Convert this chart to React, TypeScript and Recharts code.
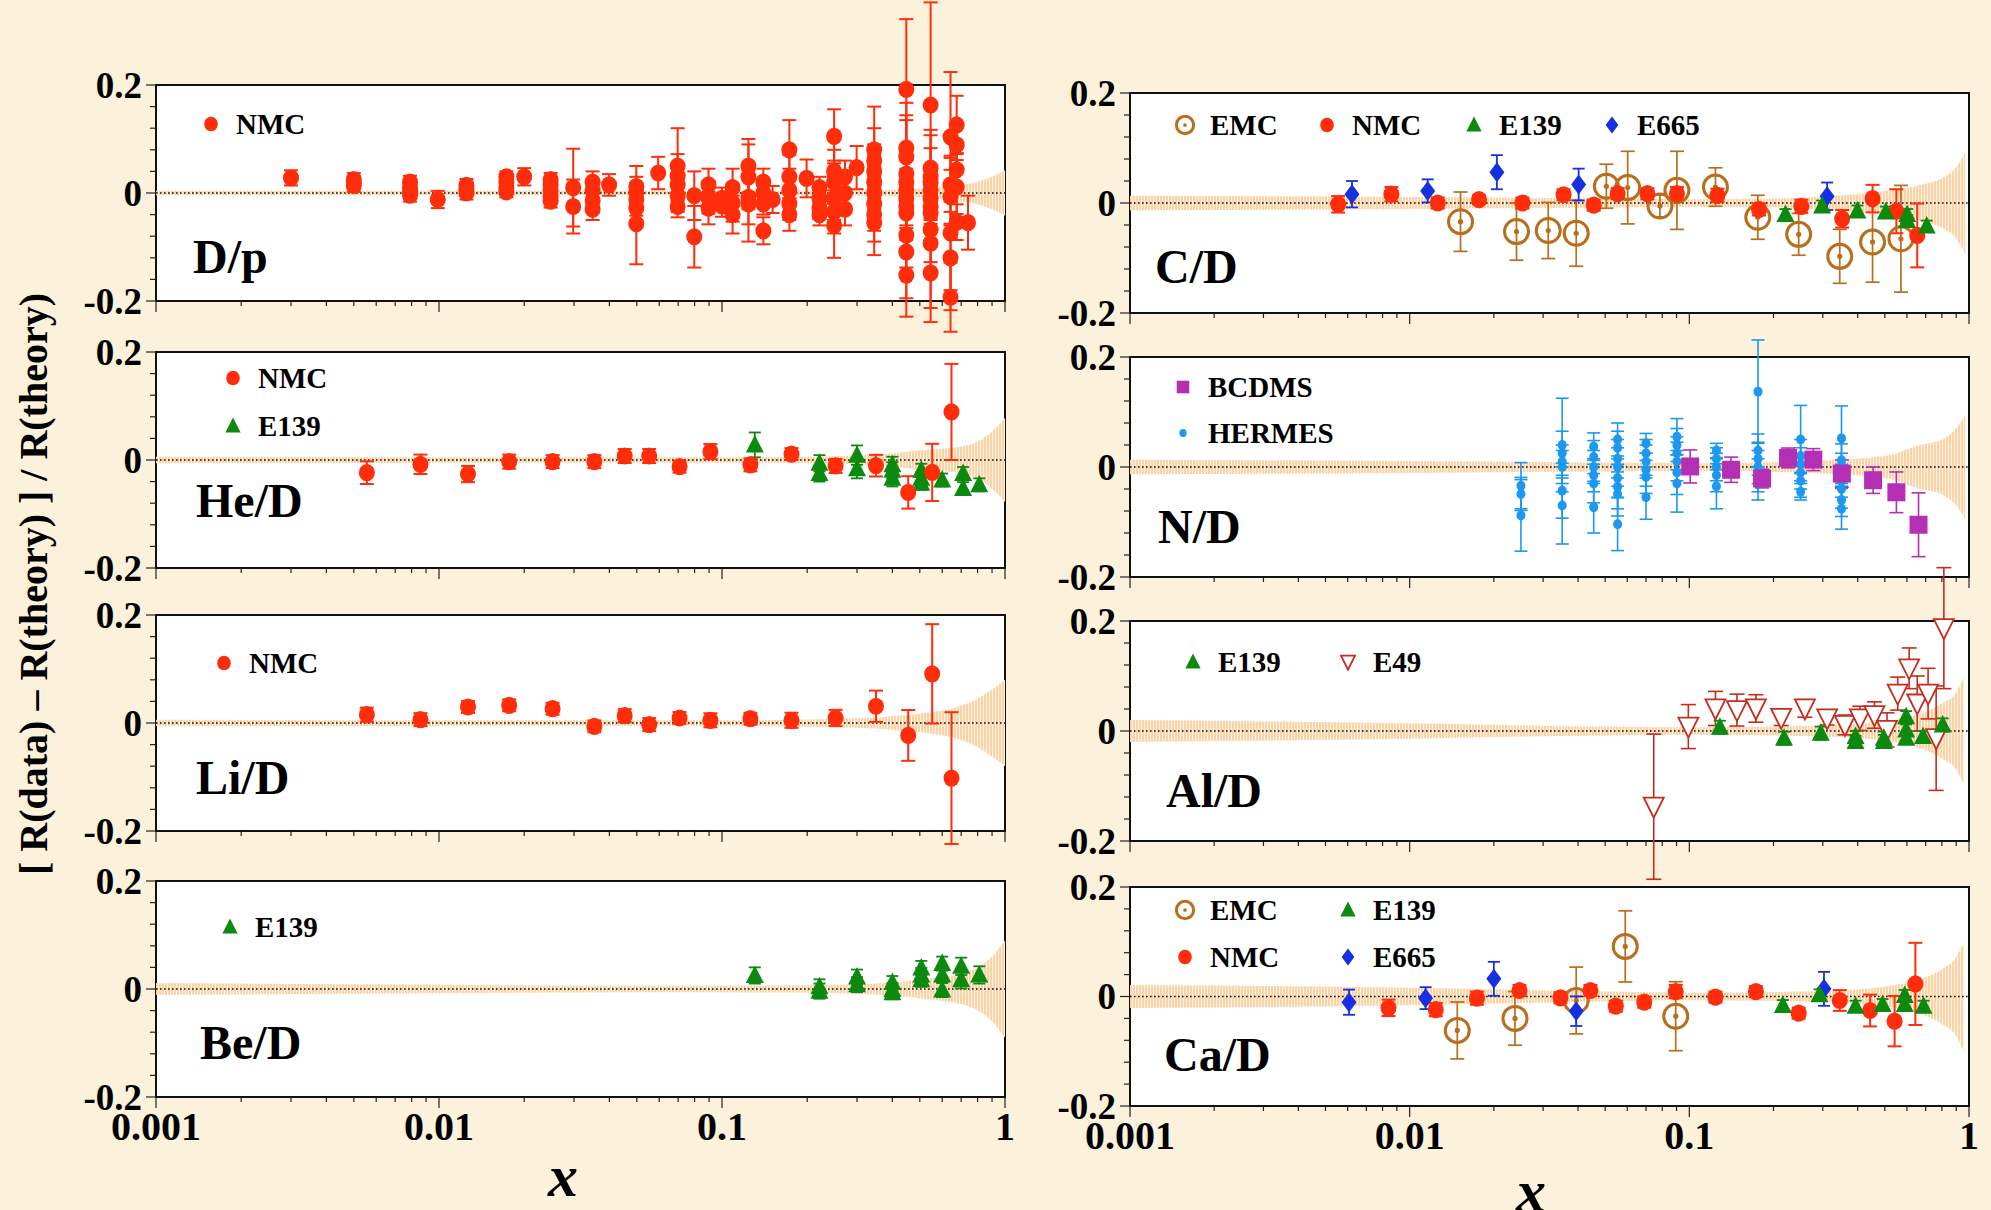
import React from "react";
import { ComposedChart, Scatter, Area, XAxis, YAxis, ErrorBar, ReferenceLine } from "recharts";

// rows are [x, value, error]
type Row = number[];

const xTicks = [
  0.001, 0.002, 0.003, 0.004, 0.005, 0.006, 0.007, 0.008, 0.009,
  0.01, 0.02, 0.03, 0.04, 0.05, 0.06, 0.07, 0.08, 0.09,
  0.1, 0.2, 0.3, 0.4, 0.5, 0.6, 0.7, 0.8, 0.9, 1,
];
const xMajor = [0.001, 0.01, 0.1, 1];
const xMajorText = ["0.001", "0.01", "0.1", "1"];
const yTicks = [-0.2, -0.16, -0.12, -0.08, -0.04, 0, 0.04, 0.08, 0.12, 0.16, 0.2];
const yMajor = [-0.2, 0, 0.2];
const yMajorText = ["-0.2", "0", "0.2"];

// theory uncertainty half-widths, [x, halfwidth]
const bandDp = [[0.001, 0.004], [0.1, 0.004], [0.3, 0.005], [0.5, 0.008], [0.6, 0.011], [0.7, 0.015], [0.8, 0.021], [0.9, 0.03], [1, 0.042]];
const bandHe = [[0.001, 0.006], [0.1, 0.005], [0.3, 0.008], [0.4, 0.012], [0.5, 0.018], [0.6, 0.021], [0.7, 0.025], [0.8, 0.034], [0.9, 0.053], [1, 0.078]];
const bandLi = [[0.001, 0.006], [0.1, 0.005], [0.3, 0.009], [0.45, 0.015], [0.55, 0.02], [0.65, 0.027], [0.8, 0.045], [0.9, 0.062], [1, 0.08]];
const bandBe = [[0.001, 0.011], [0.01, 0.008], [0.05, 0.006], [0.2, 0.007], [0.4, 0.012], [0.5, 0.017], [0.6, 0.022], [0.7, 0.028], [0.8, 0.04], [0.9, 0.06], [1, 0.09]];
const bandC = [[0.001, 0.013], [0.01, 0.011], [0.05, 0.008], [0.1, 0.007], [0.2, 0.008], [0.3, 0.012], [0.5, 0.022], [0.7, 0.035], [0.8, 0.045], [0.9, 0.065], [0.97, 0.092]];
const bandN = [[0.001, 0.013], [0.01, 0.011], [0.05, 0.008], [0.1, 0.007], [0.3, 0.012], [0.5, 0.02], [0.67, 0.04], [0.8, 0.05], [0.9, 0.07], [0.97, 0.095]];
const bandAl = [[0.001, 0.02], [0.01, 0.014], [0.05, 0.008], [0.1, 0.007], [0.3, 0.01], [0.5, 0.018], [0.7, 0.035], [0.8, 0.05], [0.9, 0.07], [0.96, 0.098]];
const bandCa = [[0.001, 0.021], [0.01, 0.016], [0.05, 0.009], [0.1, 0.007], [0.3, 0.01], [0.5, 0.018], [0.7, 0.035], [0.8, 0.05], [0.9, 0.072], [0.96, 0.1]];

// D/p
const dpNMC: Row[] = [
  [0.003, 0.028, 0.014],
  [0.005, 0.025, 0.012], [0.005, 0.019, 0.012], [0.005, 0.014, 0.012],
  [0.0079, 0.02, 0.012], [0.0079, 0.01, 0.012], [0.0079, 0.002, 0.012], [0.0079, -0.004, 0.012],
  [0.0099, -0.012, 0.016],
  [0.0125, 0.014, 0.012], [0.0125, 0.006, 0.012], [0.0125, 0.0, 0.012],
  [0.0173, 0.03, 0.01], [0.0173, 0.02, 0.01], [0.0173, 0.01, 0.01], [0.0173, 0.002, 0.01],
  [0.02, 0.03, 0.016],
  [0.0248, 0.025, 0.012], [0.0248, 0.015, 0.012], [0.0248, 0.005, 0.012], [0.0248, -0.006, 0.012], [0.0248, -0.015, 0.012],
  [0.0298, 0.01, 0.072], [0.0298, -0.025, 0.05],
  [0.0349, 0.02, 0.02], [0.0349, 0.004, 0.02], [0.0349, -0.014, 0.02], [0.0349, -0.03, 0.02],
  [0.0399, 0.015, 0.02],
  [0.0498, 0.012, 0.038], [0.0498, 0.0, 0.03], [0.0498, -0.012, 0.03], [0.0498, -0.028, 0.03], [0.0498, -0.057, 0.075],
  [0.0595, 0.037, 0.03],
  [0.0697, 0.05, 0.07], [0.0697, 0.032, 0.04], [0.0697, 0.015, 0.03], [0.0697, -0.005, 0.03], [0.0697, -0.025, 0.02],
  [0.0798, -0.005, 0.045], [0.0798, -0.081, 0.057],
  [0.0896, 0.015, 0.03], [0.0896, -0.008, 0.03], [0.0896, -0.028, 0.03],
  [0.1, -0.01, 0.02], [0.1, -0.024, 0.02],
  [0.109, 0.01, 0.035], [0.109, -0.018, 0.035], [0.109, -0.04, 0.035],
  [0.124, 0.05, 0.05], [0.124, 0.03, 0.06], [0.124, -0.008, 0.05], [0.124, -0.02, 0.07],
  [0.14, 0.02, 0.025], [0.14, 0.0, 0.02], [0.14, -0.02, 0.02], [0.14, -0.07, 0.025],
  [0.151, -0.012, 0.025],
  [0.173, 0.08, 0.055], [0.173, 0.03, 0.04], [0.173, 0.005, 0.04], [0.173, -0.02, 0.03], [0.173, -0.04, 0.03],
  [0.199, 0.027, 0.035],
  [0.221, 0.01, 0.02], [0.221, -0.01, 0.02], [0.221, -0.028, 0.02], [0.221, -0.04, 0.02],
  [0.249, 0.105, 0.05], [0.249, 0.04, 0.04], [0.249, 0.02, 0.04], [0.249, -0.01, 0.04], [0.249, -0.035, 0.04], [0.249, -0.06, 0.06],
  [0.272, 0.03, 0.03], [0.272, 0.0, 0.03], [0.272, -0.03, 0.03],
  [0.299, 0.047, 0.04],
  [0.345, 0.08, 0.08], [0.345, 0.06, 0.06], [0.345, 0.04, 0.05], [0.345, 0.02, 0.05], [0.345, 0.0, 0.05],
  [0.345, -0.02, 0.05], [0.345, -0.04, 0.05], [0.345, -0.055, 0.06],
  [0.448, 0.192, 0.13], [0.448, 0.083, 0.084], [0.448, 0.067, 0.077], [0.448, 0.035, 0.1], [0.448, 0.02, 0.04],
  [0.448, 0.005, 0.04], [0.448, -0.01, 0.05], [0.448, -0.025, 0.05], [0.448, -0.037, 0.05], [0.448, -0.078, 0.06],
  [0.448, -0.109, 0.086], [0.448, -0.152, 0.077],
  [0.546, 0.163, 0.19], [0.546, 0.046, 0.071], [0.546, 0.03, 0.077], [0.546, 0.02, 0.063], [0.546, 0.005, 0.04],
  [0.546, -0.01, 0.04], [0.546, -0.025, 0.04], [0.546, -0.037, 0.05], [0.546, -0.068, 0.06], [0.546, -0.093, 0.12],
  [0.546, -0.148, 0.091],
  [0.642, 0.104, 0.12], [0.642, 0.015, 0.05], [0.642, -0.007, 0.05], [0.642, -0.074, 0.143], [0.642, -0.12, 0.06],
  [0.642, -0.193, 0.064],
  [0.675, 0.126, 0.054], [0.675, 0.089, 0.04], [0.675, 0.043, 0.031], [0.675, 0.011, 0.05], [0.675, -0.054, 0.033],
  [0.74, -0.055, 0.05],
];

// He/D
const heNMC: Row[] = [
  [0.00556, -0.0235, 0.021], [0.0086, -0.008, 0.018], [0.01266, -0.026, 0.015], [0.0177, -0.003, 0.013],
  [0.0252, -0.003, 0.012], [0.0354, -0.003, 0.012], [0.0453, 0.0074, 0.013], [0.0553, 0.0074, 0.013],
  [0.0708, -0.0124, 0.011], [0.091, 0.0155, 0.014], [0.126, -0.009, 0.012], [0.176, 0.011, 0.011],
  [0.252, -0.011, 0.013], [0.35, -0.0105, 0.02], [0.455, -0.06, 0.03], [0.553, -0.023, 0.053],
  [0.647, 0.089, 0.089],
];
const heE139: Row[] = [
  [0.1306, 0.028, 0.023],
  [0.221, -0.006, 0.015], [0.221, -0.025, 0.015],
  [0.3, 0.009, 0.018], [0.3, -0.016, 0.018],
  [0.4, -0.009, 0.015], [0.4, -0.019, 0.015], [0.4, -0.034, 0.015],
  [0.506, -0.019, 0.012], [0.506, -0.034, 0.012], [0.506, -0.043, 0.012],
  [0.6, -0.037, 0.012],
  [0.711, -0.025, 0.012], [0.711, -0.053, 0.012],
  [0.811, -0.046, 0.012],
];

// Li/D
const liNMC: Row[] = [
  [0.00556, 0.0154, 0.013], [0.0086, 0.0062, 0.012], [0.01266, 0.0296, 0.011], [0.0177, 0.0327, 0.011],
  [0.0252, 0.0265, 0.011], [0.0354, -0.0062, 0.011], [0.0453, 0.0136, 0.012], [0.0553, -0.003, 0.012],
  [0.0708, 0.0093, 0.011], [0.091, 0.005, 0.013], [0.126, 0.008, 0.011], [0.176, 0.005, 0.014],
  [0.252, 0.0093, 0.015], [0.35, 0.031, 0.029], [0.455, -0.023, 0.047], [0.553, 0.091, 0.092],
  [0.647, -0.102, 0.122],
];

// Be/D
const beE139: Row[] = [
  [0.1306, 0.025, 0.015],
  [0.221, 0.004, 0.014], [0.221, -0.004, 0.014],
  [0.3, 0.022, 0.014], [0.3, 0.008, 0.014],
  [0.4, 0.012, 0.012], [0.4, -0.001, 0.012], [0.4, -0.007, 0.012],
  [0.506, 0.039, 0.013], [0.506, 0.026, 0.013], [0.506, 0.017, 0.013],
  [0.6, 0.047, 0.013], [0.6, 0.026, 0.013], [0.6, -0.002, 0.013],
  [0.7, 0.042, 0.016], [0.7, 0.017, 0.016],
  [0.811, 0.026, 0.016],
];

// C/D
const cEMC: Row[] = [
  [0.0152, -0.034, 0.054], [0.0241, -0.052, 0.052], [0.0313, -0.05, 0.051], [0.0394, -0.055, 0.06],
  [0.0505, 0.0305, 0.04], [0.0602, 0.028, 0.066], [0.0785, -0.0055, 0.02], [0.0903, 0.023, 0.071],
  [0.124, 0.029, 0.035], [0.1757, -0.026, 0.04], [0.246, -0.057, 0.038], [0.345, -0.097, 0.049],
  [0.452, -0.071, 0.073], [0.571, -0.065, 0.097],
];
const cNMC: Row[] = [
  [0.00555, -0.0024, 0.015], [0.0086, 0.016, 0.013], [0.0126, 0.0, 0.01], [0.0177, 0.006, 0.008],
  [0.0253, 0.0, 0.01], [0.0355, 0.015, 0.01], [0.0455, -0.004, 0.01], [0.0554, 0.017, 0.01],
  [0.0708, 0.017, 0.01], [0.0903, 0.017, 0.012], [0.126, 0.014, 0.012], [0.1775, -0.0116, 0.011],
  [0.2514, -0.006, 0.012], [0.352, -0.0287, 0.016], [0.452, 0.008, 0.025], [0.55, -0.015, 0.04],
  [0.653, -0.059, 0.058],
];
const cE139: Row[] = [
  [0.2207, -0.021, 0.01], [0.2985, -0.0055, 0.01], [0.399, -0.0146, 0.01], [0.504, -0.0165, 0.01],
  [0.601, -0.021, 0.01], [0.601, -0.032, 0.01], [0.706, -0.042, 0.01],
];
const cE665: Row[] = [
  [0.00622, 0.016, 0.024], [0.0116, 0.022, 0.021], [0.0205, 0.056, 0.031], [0.0402, 0.0335, 0.029],
  [0.311, 0.0122, 0.025],
];

// N/D
const nBCDMS: Row[] = [
  [0.1007, 0.001, 0.03], [0.141, -0.005, 0.023], [0.182, -0.021, 0.017], [0.2254, 0.0165, 0.018],
  [0.2775, 0.0134, 0.02], [0.351, -0.012, 0.025], [0.454, -0.024, 0.024], [0.55, -0.046, 0.037],
  [0.66, -0.105, 0.058],
];
const nHERMES: Row[] = [
  [0.025, -0.034, 0.042], [0.025, -0.049, 0.03], [0.025, -0.088, 0.065],
  [0.0351, 0.04, 0.085], [0.0351, 0.025, 0.04], [0.0351, 0.01, 0.03], [0.0351, 0.0, 0.03], [0.0351, -0.043, 0.05], [0.0351, -0.07, 0.07],
  [0.0455, 0.037, 0.025], [0.0455, 0.018, 0.03], [0.0455, 0.0, 0.03], [0.0455, -0.015, 0.03], [0.0455, -0.03, 0.035], [0.0455, -0.073, 0.047],
  [0.0554, 0.05, 0.03], [0.0554, 0.035, 0.03], [0.0554, 0.015, 0.035], [0.0554, 0.0, 0.035], [0.0554, -0.02, 0.035],
  [0.0554, -0.036, 0.04], [0.0554, -0.049, 0.04], [0.0554, -0.104, 0.048],
  [0.07, 0.043, 0.018], [0.07, 0.025, 0.025], [0.07, 0.01, 0.03], [0.07, -0.005, 0.03], [0.07, -0.018, 0.03], [0.07, -0.055, 0.04],
  [0.0903, 0.055, 0.033], [0.0903, 0.04, 0.03], [0.0903, 0.025, 0.03], [0.0903, 0.01, 0.035], [0.0903, -0.01, 0.04], [0.0903, -0.03, 0.052],
  [0.125, 0.03, 0.013], [0.125, 0.015, 0.02], [0.125, 0.0, 0.025], [0.125, -0.015, 0.03], [0.125, -0.035, 0.041],
  [0.176, 0.137, 0.094], [0.176, 0.03, 0.03], [0.176, 0.015, 0.03], [0.176, 0.0, 0.03], [0.176, -0.015, 0.03], [0.176, -0.03, 0.03],
  [0.25, 0.05, 0.062], [0.25, 0.02, 0.03], [0.25, 0.005, 0.03], [0.25, -0.01, 0.03], [0.25, -0.025, 0.03], [0.25, -0.045, 0.015],
  [0.35, 0.052, 0.059], [0.35, 0.012, 0.03], [0.35, -0.005, 0.03], [0.35, -0.025, 0.03], [0.35, -0.04, 0.035],
  [0.35, -0.06, 0.03], [0.35, -0.076, 0.037],
];

// Al/D
const alE139: Row[] = [
  [0.1286, 0.0067, 0.012], [0.218, -0.0133, 0.012], [0.295, -0.004, 0.012],
  [0.393, -0.01, 0.01], [0.393, -0.019, 0.01], [0.496, -0.013, 0.012], [0.496, -0.019, 0.012],
  [0.596, 0.026, 0.01], [0.596, 0.002, 0.01], [0.596, -0.013, 0.01], [0.685, -0.01, 0.01], [0.805, 0.011, 0.012],
];
const alE49: Row[] = [
  [0.0746, -0.1376, 0.132], [0.0992, 0.008, 0.04], [0.124, 0.041, 0.031], [0.148, 0.038, 0.029],
  [0.173, 0.041, 0.025], [0.213, 0.024, 0.014], [0.259, 0.041, 0.016], [0.311, 0.023, 0.012],
  [0.36, 0.011, 0.018], [0.407, 0.023, 0.022], [0.459, 0.029, 0.024], [0.509, 0.002, 0.031],
  [0.556, 0.068, 0.03], [0.611, 0.114, 0.037], [0.653, 0.05, 0.05], [0.714, 0.068, 0.046],
  [0.763, -0.013, 0.095], [0.813, 0.187, 0.11],
];

// Ca/D
const caEMC: Row[] = [
  [0.0148, -0.062, 0.052], [0.0238, -0.04, 0.049], [0.0394, -0.0073, 0.061], [0.059, 0.0915, 0.065],
  [0.0894, -0.036, 0.063],
];
const caNMC: Row[] = [
  [0.0084, -0.0207, 0.015], [0.0124, -0.024, 0.012], [0.0174, -0.003, 0.012], [0.0247, 0.011, 0.01],
  [0.0346, -0.0024, 0.01], [0.0443, 0.011, 0.01], [0.0546, -0.0177, 0.01], [0.069, -0.0104, 0.01],
  [0.0894, 0.009, 0.012], [0.124, -0.0012, 0.01], [0.173, 0.009, 0.01], [0.246, -0.0305, 0.01],
  [0.345, -0.0073, 0.019], [0.443, -0.0256, 0.029], [0.542, -0.045, 0.046], [0.643, 0.023, 0.075],
];
const caE139: Row[] = [
  [0.216, -0.0165, 0.01], [0.292, 0.003, 0.01], [0.393, -0.0177, 0.01], [0.491, -0.0146, 0.01],
  [0.589, 0.002, 0.01], [0.589, -0.0146, 0.01], [0.688, -0.0177, 0.01],
];
const caE665: Row[] = [
  [0.00607, -0.0104, 0.023], [0.0114, -0.003, 0.02], [0.02, 0.0323, 0.031], [0.0394, -0.0268, 0.027],
  [0.303, 0.014, 0.031],
];

type Kind = "nmc" | "e139" | "e665" | "emc" | "bcdms" | "hermes" | "e49";

const STYLE: Record<Kind, { color: string; bar: number; cap: number }> = {
  nmc: { color: "#ff2d0a", bar: 2, cap: 7 },
  e139: { color: "#0c8a10", bar: 1.8, cap: 6 },
  e665: { color: "#1530e0", bar: 1.8, cap: 6 },
  emc: { color: "#b86e1c", bar: 1.7, cap: 7 },
  bcdms: { color: "#b42fb4", bar: 1.6, cap: 7 },
  hermes: { color: "#1c98f0", bar: 1.6, cap: 6.5 },
  e49: { color: "#c42c1c", bar: 1.6, cap: 7.5 },
};

const FONT = "'Liberation Serif', 'Times New Roman', Times, serif";

function Marker({ kind, cx, cy, s = 1 }: { kind: Kind; cx: number; cy: number; s?: number }) {
  const c = STYLE[kind].color;
  switch (kind) {
    case "nmc":
      return <ellipse cx={cx} cy={cy} rx={8 * s} ry={8.6 * s} fill={c} />;
    case "e139":
      return <polygon points={`${cx},${cy - 10 * s} ${cx + 9 * s},${cy + 7.5 * s} ${cx - 9 * s},${cy + 7.5 * s}`} fill={c} />;
    case "e665":
      return <polygon points={`${cx},${cy - 10 * s} ${cx + 7.5 * s},${cy} ${cx},${cy + 10 * s} ${cx - 7.5 * s},${cy}`} fill={c} />;
    case "emc":
      return (
        <g>
          <circle cx={cx} cy={cy} r={12 * s} fill="none" stroke={c} strokeWidth={3} />
          <circle cx={cx} cy={cy} r={2.6 * s} fill={c} />
        </g>
      );
    case "bcdms":
      return <rect x={cx - 9 * s} y={cy - 9 * s} width={18 * s} height={18 * s} fill={c} />;
    case "hermes":
      return <ellipse cx={cx} cy={cy} rx={4.5 * s} ry={5 * s} fill={c} />;
    case "e49":
      return (
        <polygon
          points={`${cx - 10 * s},${cy - 9 * s} ${cx + 10 * s},${cy - 9 * s} ${cx},${cy + 11 * s}`}
          fill="#fff"
          stroke={c}
          strokeWidth={1.8}
        />
      );
  }
}

type Series = { kind: Kind; rows: Row[] };
type LegendItem = { kind: Kind; cx: number; cy: number; text: string; s?: number };
type PanelSpec = {
  id: string;
  x: number;
  y: number;
  w: number;
  h: number;
  band: number[][];
  series: Series[];
  label: string;
  lx: number;
  ly: number;
  legend: LegendItem[];
  xLabels: boolean;
};

const LX = 156;
const LW = 849;
const RX = 1130;
const RW = 839;

const panels: PanelSpec[] = [
  {
    id: "dp", x: LX, y: 85, w: LW, h: 216, band: bandDp, label: "D/p", lx: 193, ly: 273, xLabels: false,
    series: [{ kind: "nmc", rows: dpNMC }],
    legend: [{ kind: "nmc", cx: 211, cy: 124, text: "NMC", s: 0.85 }],
  },
  {
    id: "he", x: LX, y: 352, w: LW, h: 216, band: bandHe, label: "He/D", lx: 196, ly: 517, xLabels: false,
    series: [{ kind: "e139", rows: heE139 }, { kind: "nmc", rows: heNMC }],
    legend: [
      { kind: "nmc", cx: 233, cy: 378, text: "NMC", s: 0.85 },
      { kind: "e139", cx: 233, cy: 426, text: "E139", s: 0.85 },
    ],
  },
  {
    id: "li", x: LX, y: 615, w: LW, h: 216, band: bandLi, label: "Li/D", lx: 196, ly: 794, xLabels: false,
    series: [{ kind: "nmc", rows: liNMC }],
    legend: [{ kind: "nmc", cx: 224, cy: 663, text: "NMC", s: 0.85 }],
  },
  {
    id: "be", x: LX, y: 881, w: LW, h: 216, band: bandBe, label: "Be/D", lx: 200, ly: 1059, xLabels: true,
    series: [{ kind: "e139", rows: beE139 }],
    legend: [{ kind: "e139", cx: 230, cy: 927, text: "E139", s: 0.85 }],
  },
  {
    id: "c", x: RX, y: 93, w: RW, h: 220, band: bandC, label: "C/D", lx: 1155, ly: 283, xLabels: false,
    series: [
      { kind: "emc", rows: cEMC },
      { kind: "e665", rows: cE665 },
      { kind: "nmc", rows: cNMC },
      { kind: "e139", rows: cE139 },
    ],
    legend: [
      { kind: "emc", cx: 1185, cy: 125, text: "EMC", s: 0.72 },
      { kind: "nmc", cx: 1327, cy: 125, text: "NMC", s: 0.85 },
      { kind: "e139", cx: 1474, cy: 125, text: "E139", s: 0.85 },
      { kind: "e665", cx: 1612, cy: 125, text: "E665", s: 0.85 },
    ],
  },
  {
    id: "n", x: RX, y: 357, w: RW, h: 220, band: bandN, label: "N/D", lx: 1158, ly: 543, xLabels: false,
    series: [{ kind: "hermes", rows: nHERMES }, { kind: "bcdms", rows: nBCDMS }],
    legend: [
      { kind: "bcdms", cx: 1183, cy: 387, text: "BCDMS", s: 0.7 },
      { kind: "hermes", cx: 1183, cy: 433, text: "HERMES", s: 0.8 },
    ],
  },
  {
    id: "al", x: RX, y: 621, w: RW, h: 220, band: bandAl, label: "Al/D", lx: 1166, ly: 807, xLabels: false,
    series: [{ kind: "e49", rows: alE49 }, { kind: "e139", rows: alE139 }],
    legend: [
      { kind: "e139", cx: 1193, cy: 662, text: "E139", s: 0.85 },
      { kind: "e49", cx: 1348, cy: 662, text: "E49", s: 0.7 },
    ],
  },
  {
    id: "ca", x: RX, y: 887, w: RW, h: 219, band: bandCa, label: "Ca/D", lx: 1164, ly: 1071, xLabels: true,
    series: [
      { kind: "emc", rows: caEMC },
      { kind: "e665", rows: caE665 },
      { kind: "nmc", rows: caNMC },
      { kind: "e139", rows: caE139 },
    ],
    legend: [
      { kind: "emc", cx: 1185, cy: 910, text: "EMC", s: 0.72 },
      { kind: "e139", cx: 1348, cy: 910, text: "E139", s: 0.85 },
      { kind: "nmc", cx: 1185, cy: 957, text: "NMC", s: 0.85 },
      { kind: "e665", cx: 1348, cy: 957, text: "E665", s: 0.85 },
    ],
  },
];

// the axes take 1px each, the rest is margin; wide margins leave room for long error bars
const M = { top: 100, right: 40, bottom: 90, left: 89 };

function XTick(props: any, showLabels: boolean) {
  const { x, y, payload } = props;
  const i = xMajor.findIndex((v) => Math.abs(v - payload.value) < 1e-9);
  const major = i >= 0;
  return (
    <g>
      <line x1={x} x2={x} y1={y} y2={y + (major ? 11 : 5)} stroke="#222" strokeWidth={1.2} />
      {major && showLabels && (
        <text x={x} y={y + 43} textAnchor="middle" fontFamily={FONT} fontWeight="bold" fontSize={40} fill="#000">
          {xMajorText[i]}
        </text>
      )}
    </g>
  );
}

function YTick(props: any) {
  const { x, y, payload } = props;
  const i = yMajor.findIndex((v) => Math.abs(v - payload.value) < 1e-9);
  const major = i >= 0;
  return (
    <g>
      <line x1={x} x2={x - (major ? 10 : 6)} y1={y} y2={y} stroke="#222" strokeWidth={1.2} />
      {major && (
        <text x={x - 14} y={y} dy="0.34em" textAnchor="end" fontFamily={FONT} fontWeight="bold" fontSize={37} fill="#000">
          {yMajorText[i]}
        </text>
      )}
    </g>
  );
}

function Panel({ p }: { p: PanelSpec }) {
  const bandRows = p.band.map(([bx, hw]) => ({ x: bx, band: [-hw, hw] }));
  return (
    <div className="rc-panel" style={{ position: "absolute", left: p.x - M.left - 1, top: p.y - M.top }}>
      <ComposedChart
        width={p.w + M.left + M.right + 1}
        height={p.h + M.top + M.bottom + 1}
        margin={M}
        data={bandRows}
      >
        <XAxis
          type="number"
          dataKey="x"
          scale="log"
          domain={[0.001, 1]}
          allowDataOverflow
          ticks={xTicks}
          interval={0}
          height={1}
          axisLine={false}
          tickLine={false}
          tickSize={0}
          tickMargin={0}
          tick={(t: any) => XTick(t, p.xLabels)}
        />
        <YAxis
          type="number"
          dataKey="y"
          domain={[-0.2, 0.2]}
          allowDataOverflow
          ticks={yTicks}
          interval={0}
          width={1}
          axisLine={false}
          tickLine={false}
          tickSize={0}
          tickMargin={0}
          tick={YTick}
        />
        <Area
          type="monotone"
          dataKey="band"
          stroke="none"
          fill="url(#band-hatch)"
          fillOpacity={1}
          isAnimationActive={false}
          dot={false}
          activeDot={false}
        />
        <ReferenceLine y={0} stroke="#111" strokeWidth={1.6} strokeDasharray="1.6 2.4" />
        {p.series.map((s) => {
          const st = STYLE[s.kind];
          return (
            <Scatter
              key={s.kind}
              data={s.rows.map(([x, y, e]) => ({ x, y, e }))}
              isAnimationActive={false}
              shape={(sp: any) => <Marker kind={s.kind} cx={sp.cx} cy={sp.cy} />}
            >
              <ErrorBar
                dataKey="e"
                direction="y"
                width={st.cap}
                stroke={st.color}
                strokeWidth={st.bar}
                isAnimationActive={false}
              />
            </Scatter>
          );
        })}
      </ComposedChart>
    </div>
  );
}

export default function App() {
  return (
    <div
      style={{
        position: "absolute",
        left: 0,
        top: 0,
        width: 1991,
        height: 1210,
        overflow: "hidden",
        background: "#fcf1da",
      }}
    >
      <style>{`.rc-panel [clip-path]{clip-path:none !important} .rc-panel svg{overflow:visible}`}</style>
      <svg width={0} height={0} style={{ position: "absolute" }}>
        <defs>
          <pattern id="band-hatch" patternUnits="userSpaceOnUse" width={3} height={8}>
            <rect x={0} y={0} width={3} height={8} fill="#fff3e6" />
            <rect x={0} y={0} width={2} height={8} fill="#fcd3a6" />
          </pattern>
        </defs>
      </svg>
      {panels.map((p) => (
        <div
          key={`f-${p.id}`}
          style={{
            position: "absolute",
            left: p.x - 1,
            top: p.y - 1,
            width: p.w + 2,
            height: p.h + 2,
            boxSizing: "border-box",
            border: "2px solid #111",
            background: "#fff",
          }}
        />
      ))}
      {panels.map((p) => (
        <Panel key={p.id} p={p} />
      ))}
      <svg width={1991} height={1210} style={{ position: "absolute", left: 0, top: 0, pointerEvents: "none" }}>
        <g fontFamily={FONT} fontWeight="bold" fill="#000">
          {panels.map((p) => (
            <g key={`t-${p.id}`}>
              <text x={p.lx} y={p.ly} fontSize={48}>
                {p.label}
              </text>
              {p.legend.map((l) => (
                <g key={l.text}>
                  <Marker kind={l.kind} cx={l.cx} cy={l.cy} s={l.s ?? 1} />
                  <text x={l.cx + 25} y={l.cy + 10} fontSize={29}>
                    {l.text}
                  </text>
                </g>
              ))}
            </g>
          ))}
          <text transform="translate(47,584) rotate(-90)" textAnchor="middle" fontSize={40}>
            [ R(data) – R(theory) ] / R(theory)
          </text>
          <text x={563} y={1196} textAnchor="middle" fontSize={60} fontStyle="italic">
            x
          </text>
          <text x={1531} y={1211} textAnchor="middle" fontSize={60} fontStyle="italic">
            x
          </text>
        </g>
      </svg>
    </div>
  );
}
